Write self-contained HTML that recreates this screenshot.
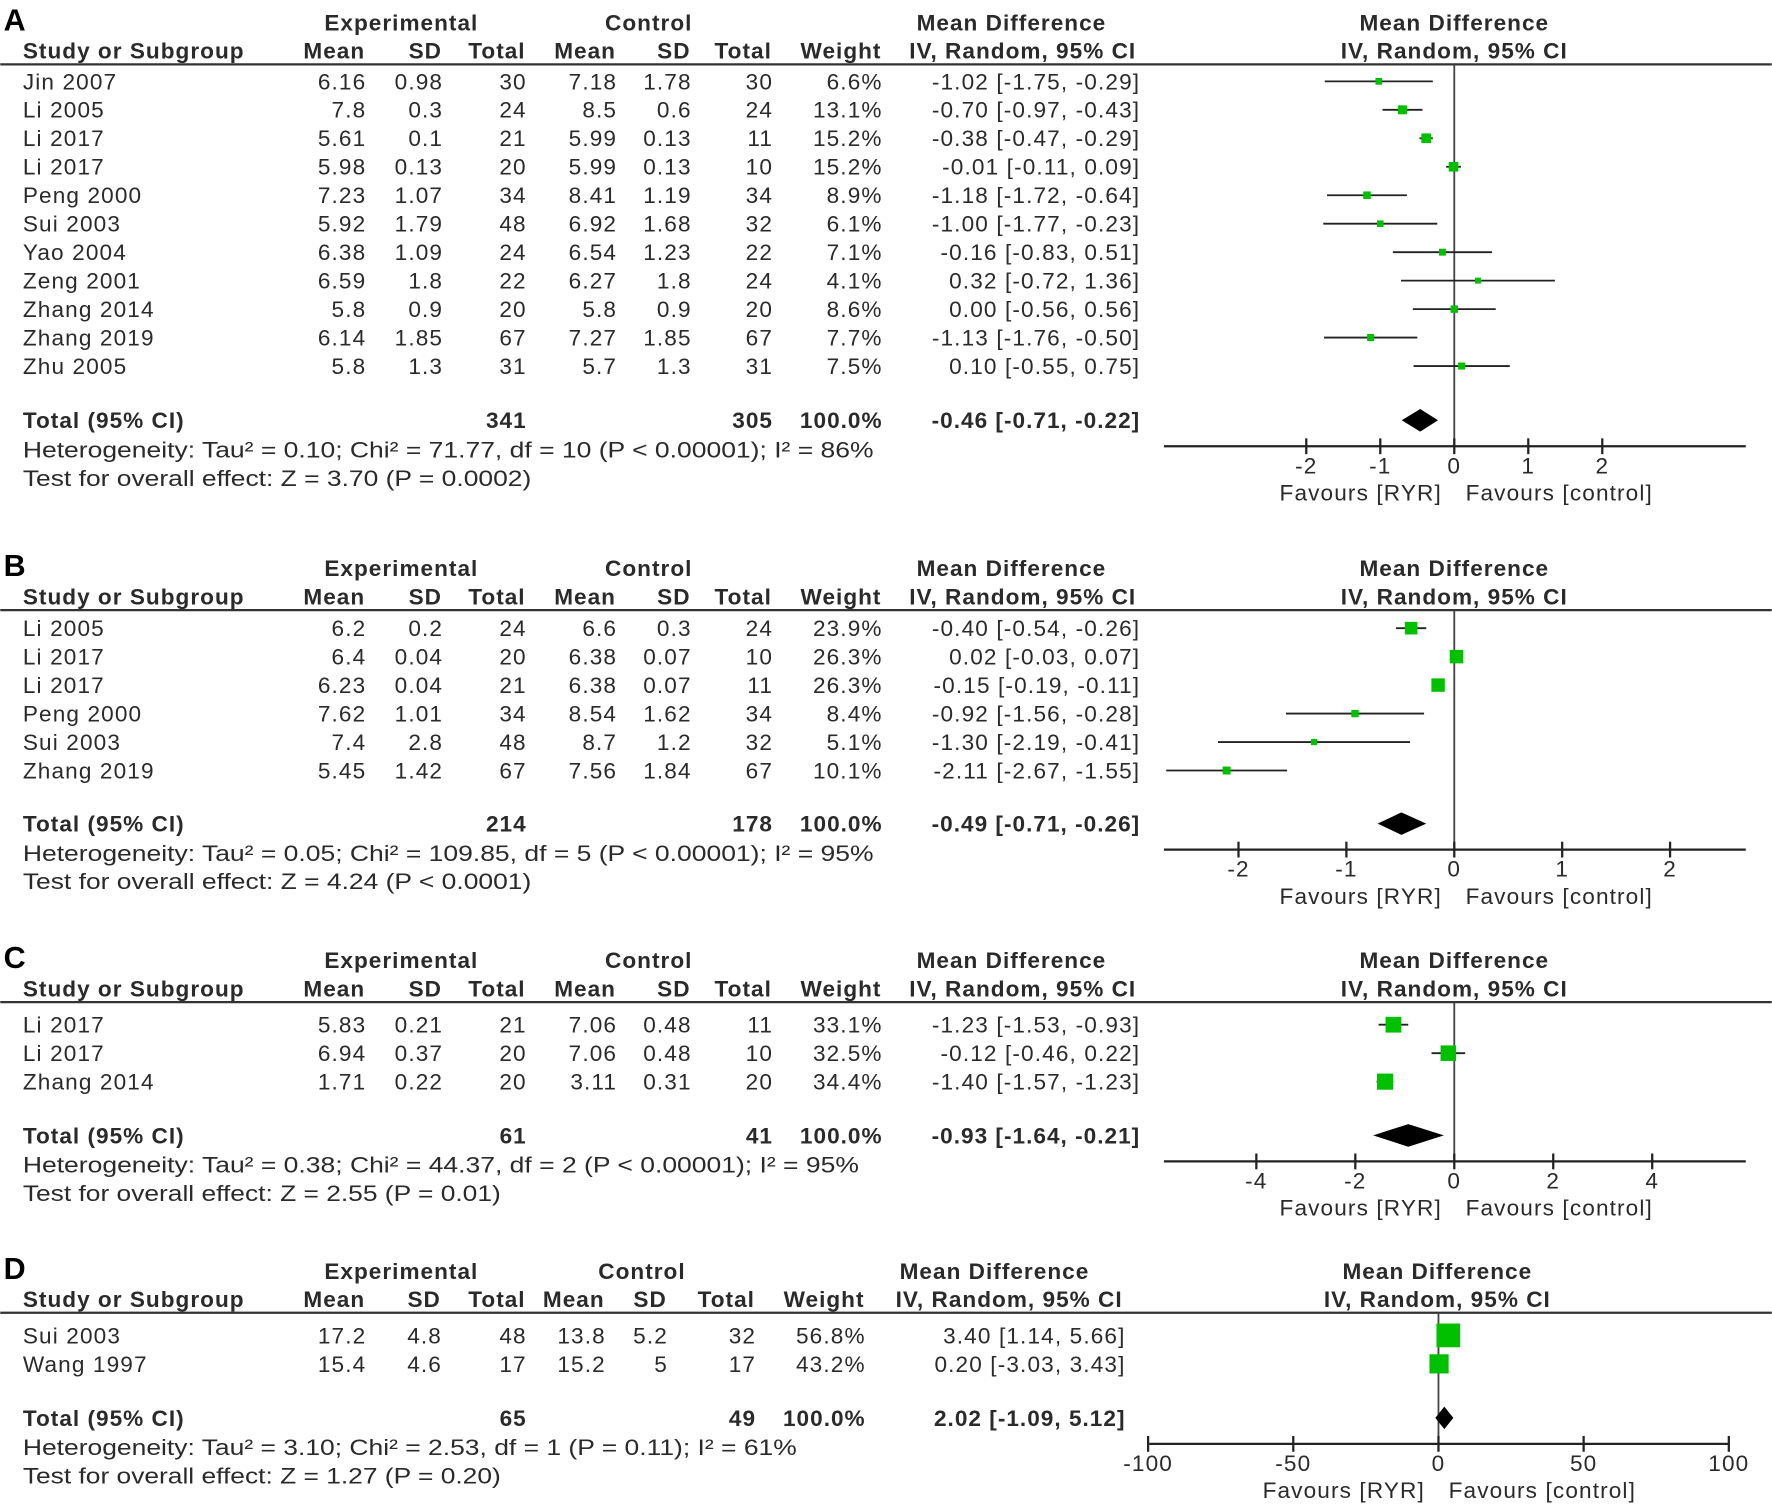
<!DOCTYPE html>
<html><head><meta charset="utf-8"><style>
html,body{margin:0;padding:0;background:#fff}
svg{display:block}
text{font-family:"Liberation Sans",Arial,sans-serif;fill:#2a2a2a;font-size:20px;letter-spacing:1px}
.b{font-weight:bold;letter-spacing:0.9px}
</style></head><body>
<svg id="fig" width="1772" height="1506" viewBox="0 0 1568 1333" xmlns="http://www.w3.org/2000/svg"></svg>
<script>
// Panel A data
const studyA=["Jin 2007","Li 2005","Li 2017","Li 2017","Peng 2000","Sui 2003","Yao 2004","Zeng 2001","Zhang 2014","Zhang 2019","Zhu 2005"];
const eMeanA=["6.16","7.8","5.61","5.98","7.23","5.92","6.38","6.59","5.8","6.14","5.8"];
const eSdA=["0.98","0.3","0.1","0.13","1.07","1.79","1.09","1.8","0.9","1.85","1.3"];
const eNA=[30,24,21,20,34,48,24,22,20,67,31];
const cMeanA=["7.18","8.5","5.99","5.99","8.41","6.92","6.54","6.27","5.8","7.27","5.7"];
const cSdA=["1.78","0.6","0.13","0.13","1.19","1.68","1.23","1.8","0.9","1.85","1.3"];
const cNA=[30,24,11,10,34,32,22,24,20,67,31];
const weightA=[6.6,13.1,15.2,15.2,8.9,6.1,7.1,4.1,8.6,7.7,7.5];
const mdA=[-1.02,-0.70,-0.38,-0.01,-1.18,-1.00,-0.16,0.32,0.00,-1.13,0.10];
const loA=[-1.75,-0.97,-0.47,-0.11,-1.72,-1.77,-0.83,-0.72,-0.56,-1.76,-0.55];
const hiA=[-0.29,-0.43,-0.29,0.09,-0.64,-0.23,0.51,1.36,0.56,-0.50,0.75];
const totalA=[-0.46,-0.71,-0.22];
const totNA=[341,305];
const ticksA=[-2,-1,0,1,2];
const hetA="Heterogeneity: Tau\u00b2 = 0.10; Chi\u00b2 = 71.77, df = 10 (P < 0.00001); I\u00b2 = 86%";
const testA="Test for overall effect: Z = 3.70 (P = 0.0002)";
// Panel B data
const studyB=["Li 2005","Li 2017","Li 2017","Peng 2000","Sui 2003","Zhang 2019"];
const eMeanB=["6.2","6.4","6.23","7.62","7.4","5.45"];
const eSdB=["0.2","0.04","0.04","1.01","2.8","1.42"];
const eNB=[24,20,21,34,48,67];
const cMeanB=["6.6","6.38","6.38","8.54","8.7","7.56"];
const cSdB=["0.3","0.07","0.07","1.62","1.2","1.84"];
const cNB=[24,10,11,34,32,67];
const weightB=[23.9,26.3,26.3,8.4,5.1,10.1];
const mdB=[-0.40,0.02,-0.15,-0.92,-1.30,-2.11];
const loB=[-0.54,-0.03,-0.19,-1.56,-2.19,-2.67];
const hiB=[-0.26,0.07,-0.11,-0.28,-0.41,-1.55];
const totalB=[-0.49,-0.71,-0.26];
const totNB=[214,178];
const ticksB=[-2,-1,0,1,2];
const hetB="Heterogeneity: Tau\u00b2 = 0.05; Chi\u00b2 = 109.85, df = 5 (P < 0.00001); I\u00b2 = 95%";
const testB="Test for overall effect: Z = 4.24 (P < 0.0001)";
// Panel C data
const studyC=["Li 2017","Li 2017","Zhang 2014"];
const eMeanC=["5.83","6.94","1.71"];
const eSdC=["0.21","0.37","0.22"];
const eNC=[21,20,20];
const cMeanC=["7.06","7.06","3.11"];
const cSdC=["0.48","0.48","0.31"];
const cNC=[11,10,20];
const weightC=[33.1,32.5,34.4];
const mdC=[-1.23,-0.12,-1.40];
const loC=[-1.53,-0.46,-1.57];
const hiC=[-0.93,0.22,-1.23];
const totalC=[-0.93,-1.64,-0.21];
const totNC=[61,41];
const ticksC=[-4,-2,0,2,4];
const hetC="Heterogeneity: Tau\u00b2 = 0.38; Chi\u00b2 = 44.37, df = 2 (P < 0.00001); I\u00b2 = 95%";
const testC="Test for overall effect: Z = 2.55 (P = 0.01)";
// Panel D data
const studyD=["Sui 2003","Wang 1997"];
const eMeanD=["17.2","15.4"];
const eSdD=["4.8","4.6"];
const eND=[48,17];
const cMeanD=["13.8","15.2"];
const cSdD=["5.2","5"];
const cND=[32,17];
const weightD=[56.8,43.2];
const mdD=[3.40,0.20];
const loD=[1.14,-3.03];
const hiD=[5.66,3.43];
const totalD=[2.02,-1.09,5.12];
const totND=[65,49];
const ticksD=[-100,-50,0,50,100];
const hetD="Heterogeneity: Tau\u00b2 = 3.10; Chi\u00b2 = 2.53, df = 1 (P = 0.11); I\u00b2 = 61%";
const testD="Test for overall effect: Z = 1.27 (P = 0.20)";

const svg=document.getElementById('fig');
const NS="http://www.w3.org/2000/svg";
function mk(tag,attrs,parent){const e=document.createElementNS(NS,tag);for(const k in attrs)e.setAttribute(k,attrs[k]);(parent||svg).appendChild(e);return e;}
function txt(s,x,y,anchor,cls,name,parent,len){const t=mk('text',{x:x,y:y,'text-anchor':anchor||'start'},parent);if(cls)t.setAttribute('class',cls);if(len){t.setAttribute('textLength',len);t.setAttribute('lengthAdjust','spacingAndGlyphs');t.setAttribute('style','letter-spacing:0');}t.textContent=s;


return t;}
function f2(v){return v.toFixed(2);}
function ci(m,l,h){return f2(m)+" ["+f2(l)+", "+f2(h)+"]";}

function panel(c){
  const g=mk('g',{});
  
  
  txt(c.id,3,c.top+27,'start','b','panel-label',g).setAttribute('style','font-size:27px;fill:#000;letter-spacing:0');
  const h1=c.top+27, h2=c.top+52;
  txt("Experimental",c.expC,h1,'middle','b','experimental-header',g);
  txt("Control",c.ctlC,h1,'middle','b','control-header',g);
  txt("Mean Difference",c.mdC,h1,'middle','b','md-header',g);
  txt("Mean Difference",c.plotC,h1,'middle','b','plot-md-header',g);
  txt("Study or Subgroup",20,h2,'start','b','study-header',g);
  const hdr=["Mean","SD","Total","Mean","SD","Total","Weight"];
  hdr.forEach((h,i)=>txt(h,c.cols[i],h2,'end','b','col-header-'+h.toLowerCase(),g));
  txt("IV, Random, 95% CI",c.ivC,h2,'middle','b','ci-header',g);
  txt("IV, Random, 95% CI",c.plotC,h2,'middle','b','plot-ci-header',g);
  const ln=mk('line',{x1:0,x2:1568,y1:c.top+57,y2:c.top+57,stroke:'#333','stroke-width':2},g);
  
  
  const X=v=>c.zero+v*c.unit;
  const zl=mk('line',{x1:X(0),x2:X(0),y1:c.top+57,y2:c.axisY,stroke:'#444','stroke-width':1.6},g);
  
  
  c.study.forEach((s,i)=>{
    const yc=c.row0+i*25.2, yb=yc+7;
    txt(s,20,yb,'start','','study-name',g);
    const vals=[c.em[i],c.es[i],c.en[i],c.cm[i],c.cs[i],c.cn[i],c.w[i].toFixed(1)+"%"];
    vals.forEach((v,j)=>txt(String(v),c.cols[j]+1,yb,'end','','cell',g));
    txt(ci(c.md[i],c.lo[i],c.hi[i]),c.ciR+1,yb,'end','','ci-value',g);
    const l=mk('line',{x1:X(c.lo[i]),x2:X(c.hi[i]),y1:yc,y2:yc,stroke:'#222','stroke-width':1.6},g);
    
    
    const sz=4+c.w[i]*0.3;
    const r=mk('rect',{x:X(c.md[i])-sz/2,y:yc-sz/2,width:sz,height:sz,fill:'#00c000'},g);
    
    
  });
  const ty=c.totY+7;
  txt("Total (95% CI)",20,ty,'start','b','total-label',g);
  txt(String(c.totN[0]),c.cols[2]+1,ty,'end','b','total-exp',g);
  txt(String(c.totN[1]),c.cols[5]+1,ty,'end','b','total-ctl',g);
  txt("100.0%",c.cols[6]+1,ty,'end','b','total-weight',g);
  txt(ci(c.tot[0],c.tot[1],c.tot[2]),c.ciR+1,ty,'end','b','total-ci',g);
  const dm=mk('polygon',{points:[X(c.tot[1])+','+c.totY,X(c.tot[0])+','+(c.totY-10),X(c.tot[2])+','+c.totY,X(c.tot[0])+','+(c.totY+10)].join(' '),fill:'#000'},g);
  
  
  txt(c.het,20,c.totY+33,'start','','heterogeneity-text',g,c.hetLen);
  txt(c.test,20,c.totY+58,'start','','overall-effect-text',g,c.testLen);
  const ax=mk('line',{x1:c.axL,x2:c.axR,y1:c.axisY,y2:c.axisY,stroke:'#222','stroke-width':2},g);
  
  
  c.ticks.forEach(t=>{
    const tl=mk('line',{x1:X(t),x2:X(t),y1:c.axisY-7,y2:c.axisY+7,stroke:'#222','stroke-width':2},g);
    
    
    txt(String(t),X(t),c.axisY+24,'middle','','x-tick-label',g);
  });
  txt("Favours [RYR]",c.plotC-11,c.axisY+48,'end','','favours-ryr-label',g);
  txt("Favours [control]",c.plotC+10,c.axisY+48,'start','','favours-control-label',g);
}
const colsABC=[323,391,465,545,611,683,780];
panel({id:'A',top:0,expC:355,ctlC:574,mdC:895,ivC:905,plotC:1287,cols:colsABC,ciR:1008,row0:72,totY:372,
  study:studyA,em:eMeanA,es:eSdA,en:eNA,cm:cMeanA,cs:cSdA,cn:cNA,w:weightA,md:mdA,lo:loA,hi:hiA,tot:totalA,totN:totNA,
  het:hetA,test:testA,hetLen:753,testLen:450,zero:1287,unit:65.5,axisY:395,axL:1030,axR:1545,ticks:ticksA});
panel({id:'B',top:483,expC:355,ctlC:574,mdC:895,ivC:905,plotC:1287,cols:colsABC,ciR:1008,row0:556,totY:729,
  study:studyB,em:eMeanB,es:eSdB,en:eNB,cm:cMeanB,cs:cSdB,cn:cNB,w:weightB,md:mdB,lo:loB,hi:hiB,tot:totalB,totN:totNB,
  het:hetB,test:testB,hetLen:753,testLen:450,zero:1287,unit:95.5,axisY:752,axL:1030,axR:1545,ticks:ticksB});
panel({id:'C',top:830,expC:355,ctlC:574,mdC:895,ivC:905,plotC:1287,cols:colsABC,ciR:1008,row0:907,totY:1005,
  study:studyC,em:eMeanC,es:eSdC,en:eNC,cm:cMeanC,cs:cSdC,cn:cNC,w:weightC,md:mdC,lo:loC,hi:hiC,tot:totalC,totN:totNC,
  het:hetC,test:testC,hetLen:740,testLen:423,zero:1287,unit:43.8,axisY:1028,axL:1030,axR:1545,ticks:ticksC});
panel({id:'D',top:1105,expC:355,ctlC:568,mdC:880,ivC:893,plotC:1272,cols:[323,390,465,535,590,668,765],ciR:995,row0:1182,totY:1255,
  study:studyD,em:eMeanD,es:eSdD,en:eND,cm:cMeanD,cs:cSdD,cn:cND,w:weightD,md:mdD,lo:loD,hi:hiD,tot:totalD,totN:totND,
  het:hetD,test:testD,hetLen:685,testLen:423,zero:1273,unit:2.57,axisY:1278,axL:1017,axR:1531,ticks:ticksD});
</script>
</body></html>
